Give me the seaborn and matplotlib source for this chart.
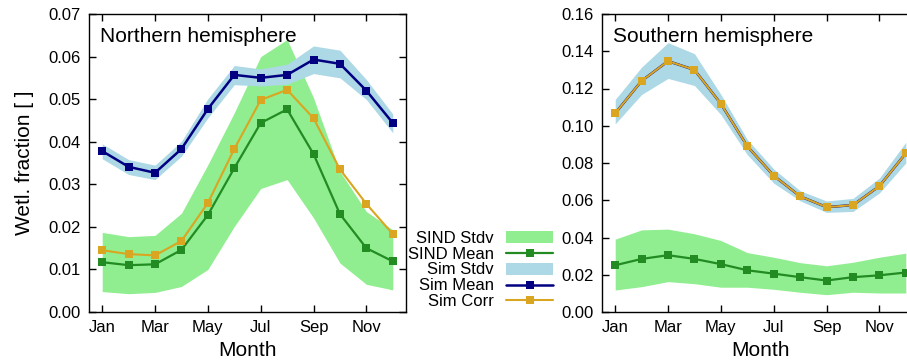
import numpy as np
import pandas as pd
import matplotlib
matplotlib.use("Agg")
import matplotlib.pyplot as plt
import seaborn as sns

months = list(range(1, 13))
month_ticks = [1, 3, 5, 7, 9, 11]
month_labels = ["Jan", "Mar", "May", "Jul", "Sep", "Nov"]

# Northern hemisphere
nh_sind_mean = [0.0117, 0.0110, 0.0112, 0.0146, 0.0228, 0.0338, 0.0444, 0.0476, 0.0371, 0.0230, 0.0150, 0.0119]
nh_sind_hi = [0.0187, 0.0177, 0.0180, 0.0232, 0.0346, 0.0468, 0.0600, 0.0640, 0.0503, 0.0330, 0.0236, 0.0193]
nh_sind_lo = [0.0048, 0.0043, 0.0046, 0.0060, 0.0100, 0.0201, 0.0290, 0.0311, 0.0221, 0.0115, 0.0065, 0.0052]
nh_sim_mean = [0.0378, 0.0341, 0.0327, 0.0383, 0.0477, 0.0557, 0.0550, 0.0557, 0.0593, 0.0583, 0.0520, 0.0444]
nh_sim_hi = [0.0395, 0.0358, 0.0345, 0.0401, 0.0501, 0.0579, 0.0571, 0.0582, 0.0625, 0.0615, 0.0546, 0.0465]
nh_sim_lo = [0.0360, 0.0323, 0.0311, 0.0366, 0.0456, 0.0534, 0.0531, 0.0535, 0.0560, 0.0550, 0.0499, 0.0421]
nh_sim_corr = [0.0145, 0.0136, 0.0133, 0.0167, 0.0256, 0.0383, 0.0498, 0.0522, 0.0455, 0.0335, 0.0254, 0.0183]

# Southern hemisphere
sh_sind_mean = [0.0251, 0.0285, 0.0305, 0.0285, 0.0257, 0.0224, 0.0206, 0.0187, 0.0169, 0.0187, 0.0197, 0.0212]
sh_sind_hi = [0.0391, 0.0441, 0.0445, 0.0420, 0.0384, 0.0319, 0.0294, 0.0265, 0.0248, 0.0267, 0.0294, 0.0316]
sh_sind_lo = [0.0118, 0.0136, 0.0163, 0.0152, 0.0133, 0.0133, 0.0122, 0.0106, 0.0093, 0.0106, 0.0102, 0.0102]
sh_sim_mean = [0.1067, 0.1241, 0.1347, 0.1300, 0.1118, 0.0890, 0.0732, 0.0621, 0.0563, 0.0574, 0.0676, 0.0852]
sh_sim_hi = [0.1141, 0.1315, 0.1446, 0.1387, 0.1168, 0.0926, 0.0768, 0.0651, 0.0596, 0.0610, 0.0719, 0.0911]
sh_sim_lo = [0.1010, 0.1168, 0.1254, 0.1216, 0.1060, 0.0845, 0.0692, 0.0597, 0.0535, 0.0540, 0.0639, 0.0800]
sh_sim_corr = [0.1067, 0.1241, 0.1347, 0.1300, 0.1118, 0.0890, 0.0732, 0.0621, 0.0563, 0.0574, 0.0676, 0.0852]

C_SIND_BAND = "#90EE90"
C_SIND = "#228B22"
C_SIM_BAND = "#ADD8E6"
C_SIM = "#000080"
C_CORR = "#DAA520"

sns.set_style("ticks")
plt.rcParams["font.family"] = ["Liberation Sans", "DejaVu Sans"]
plt.rcParams.update({"text.color": "black", "axes.labelcolor": "black",
                     "xtick.color": "black", "ytick.color": "black",
                     "axes.edgecolor": "black"})

fig = plt.figure(figsize=(9.07, 3.64), dpi=100)
axL = fig.add_axes([89 / 907, 1 - 312 / 364, 317 / 907, 298 / 364])
axR = fig.add_axes([602 / 907, 1 - 312 / 364, 317 / 907, 298 / 364])


def draw(ax, sind_mean, sind_lo, sind_hi, sim_mean, sim_lo, sim_hi, sim_corr):
    df = pd.DataFrame({"month": months, "sind": sind_mean, "sim": sim_mean, "corr": sim_corr})
    ax.fill_between(months, sind_lo, sind_hi, color=C_SIND_BAND, linewidth=0, label="SIND Stdv")
    sns.lineplot(data=df, x="month", y="sind", ax=ax, color=C_SIND, marker="s", markersize=6,
                 markeredgewidth=0, linewidth=1.6, label="SIND Mean")
    ax.fill_between(months, sim_lo, sim_hi, color=C_SIM_BAND, linewidth=0, label="Sim Stdv")
    sns.lineplot(data=df, x="month", y="sim", ax=ax, color=C_SIM, marker="s", markersize=6,
                 markeredgewidth=0, linewidth=1.8, label="Sim Mean")
    sns.lineplot(data=df, x="month", y="corr", ax=ax, color=C_CORR, marker="s", markersize=6,
                 markeredgewidth=0, linewidth=1.5, label="Sim Corr")
    ax.set_xlim(0.5, 12.5)
    ax.set_xticks(month_ticks)
    ax.set_xticklabels(month_labels)
    ax.tick_params(direction="in", top=True, right=True, length=5, width=1,
                   labelsize=12, colors="black", pad=6)
    for s in ax.spines.values():
        s.set_linewidth(1.0)
        s.set_color("black")
    ax.set_xlabel("Month", fontsize=15, labelpad=4)
    ax.set_ylabel("")


draw(axL, nh_sind_mean, nh_sind_lo, nh_sind_hi, nh_sim_mean, nh_sim_lo, nh_sim_hi, nh_sim_corr)
draw(axR, sh_sind_mean, sh_sind_lo, sh_sind_hi, sh_sim_mean, sh_sim_lo, sh_sim_hi, sh_sim_corr)

axL.set_ylim(0, 0.07)
axL.set_yticks(np.arange(0, 0.0701, 0.01))
axL.yaxis.set_major_formatter(matplotlib.ticker.FormatStrFormatter("%.2f"))
axL.set_ylabel("Wetl. fraction [ ]", fontsize=15, labelpad=10)
axR.set_ylim(0, 0.16)
axR.set_yticks(np.arange(0, 0.1601, 0.02))
axR.yaxis.set_major_formatter(matplotlib.ticker.FormatStrFormatter("%.2f"))

axL.text(0.035, 0.955, "Northern hemisphere", transform=axL.transAxes, fontsize=15, va="top", ha="left")
axR.text(0.035, 0.955, "Southern hemisphere", transform=axR.transAxes, fontsize=15, va="top", ha="left")

handles, labels = axL.get_legend_handles_labels()
axL.get_legend().remove()
axR.get_legend().remove()
fig.legend(handles, labels, loc="center right", bbox_to_anchor=(553 / 907, 1 - 270 / 364),
           frameon=False, fontsize=12, markerfirst=False, labelspacing=0.05,
           handlelength=2.8, handletextpad=0.75, borderpad=0, borderaxespad=0)

fig.savefig("out.png", dpi=100)
